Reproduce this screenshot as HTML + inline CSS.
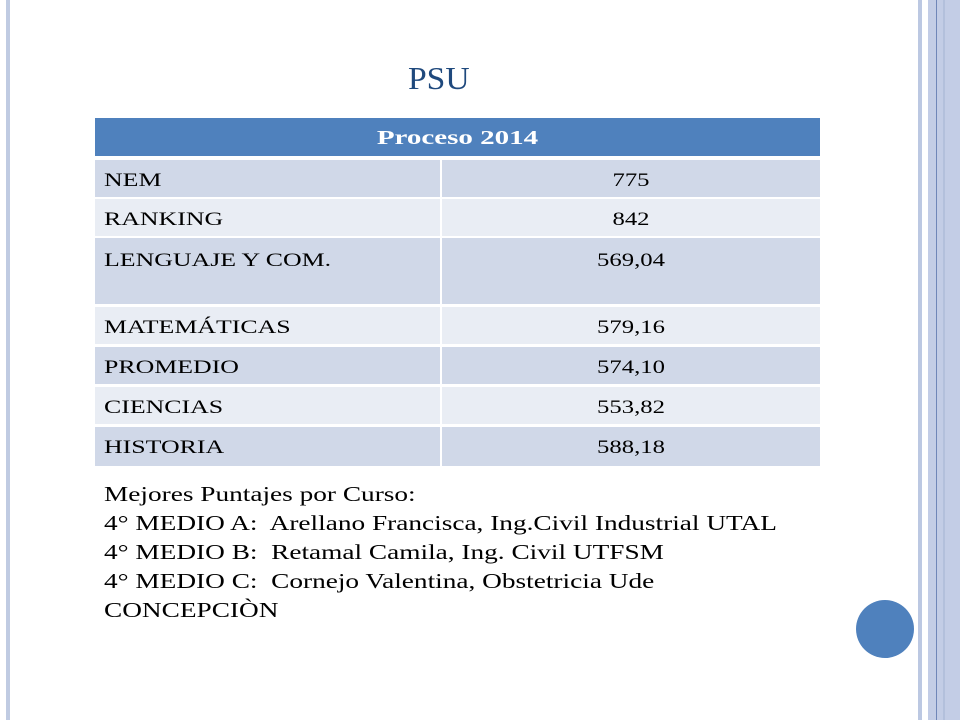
<!DOCTYPE html>
<html><head><meta charset="utf-8"><style>
body{margin:0;width:960px;height:720px;background:#fff;position:relative;overflow:hidden;font-family:"Liberation Serif",serif;}
.abs{position:absolute;}
.row{position:absolute;left:95px;width:725px;}
.c1,.c2{position:absolute;top:0;bottom:0;}
.c1{left:0;width:345px;}
.c2{left:347px;right:0;}
.lbl{position:absolute;left:9px;top:10px;font-size:19px;color:#000;white-space:nowrap;transform:scaleX(1.36);transform-origin:left top;}
.val{position:absolute;left:0;right:0;top:10px;text-align:center;font-size:19px;color:#000;transform:scaleX(1.3);}
.o .c1,.o .c2{background:#d0d8e8;}
.e .c1,.e .c2{background:#e9edf4;}
</style></head><body>
<div class="abs" style="left:6px;top:0;width:4px;height:720px;background:#c0cbe2"></div>
<div class="abs" style="left:918px;top:0;width:4px;height:720px;background:#bcc8e2"></div>
<div class="abs" style="left:928px;top:0;width:32px;height:720px;background:#c3cde6"></div>
<div class="abs" style="left:936px;top:0;width:1px;height:720px;background:#6f86b8"></div>
<div class="abs" style="left:943px;top:0;width:2px;height:720px;background:#b3c0dc"></div>
<div class="abs" style="left:856px;top:600px;width:58px;height:58px;border-radius:50%;background:#4f81bd"></div>
<div class="abs" style="left:408px;top:60px;font-size:32px;color:#1f497d;transform:scaleX(1.05);transform-origin:left top">PSU</div>

<div class="row" style="top:118px;height:38px;background:#4f81bd">
<div style="position:absolute;left:0;right:0;top:9px;text-align:center;color:#fff;font-weight:bold;font-size:20px;transform:scaleX(1.45)">Proceso 2014</div></div>

<div class="row o" style="top:160px;height:37px"><div class="c1"><span class="lbl">NEM</span></div><div class="c2"><span class="val">775</span></div></div>
<div class="row e" style="top:199px;height:37px"><div class="c1"><span class="lbl">RANKING</span></div><div class="c2"><span class="val">842</span></div></div>
<div class="row o" style="top:238px;height:66px"><div class="c1"><span class="lbl" style="top:12px">LENGUAJE Y COM.</span></div><div class="c2"><span class="val" style="top:12px">569,04</span></div></div>
<div class="row e" style="top:307px;height:37px"><div class="c1"><span class="lbl">MATEMÁTICAS</span></div><div class="c2"><span class="val">579,16</span></div></div>
<div class="row o" style="top:347px;height:37px"><div class="c1"><span class="lbl">PROMEDIO</span></div><div class="c2"><span class="val">574,10</span></div></div>
<div class="row e" style="top:387px;height:37px"><div class="c1"><span class="lbl">CIENCIAS</span></div><div class="c2"><span class="val">553,82</span></div></div>
<div class="row o" style="top:427px;height:39px"><div class="c1"><span class="lbl">HISTORIA</span></div><div class="c2"><span class="val">588,18</span></div></div>

<div class="abs" style="left:104px;top:480px;font-size:21px;line-height:29px;color:#000;white-space:nowrap;transform:scaleX(1.3);transform-origin:left top">
Mejores Puntajes por Curso:<br>
4° MEDIO A:&nbsp; Arellano Francisca, Ing.Civil Industrial UTAL<br>
4° MEDIO B:&nbsp; Retamal Camila, Ing. Civil UTFSM<br>
4° MEDIO C:&nbsp; Cornejo Valentina, Obstetricia Ude<br>
CONCEPCIÒN
</div>
</body></html>
